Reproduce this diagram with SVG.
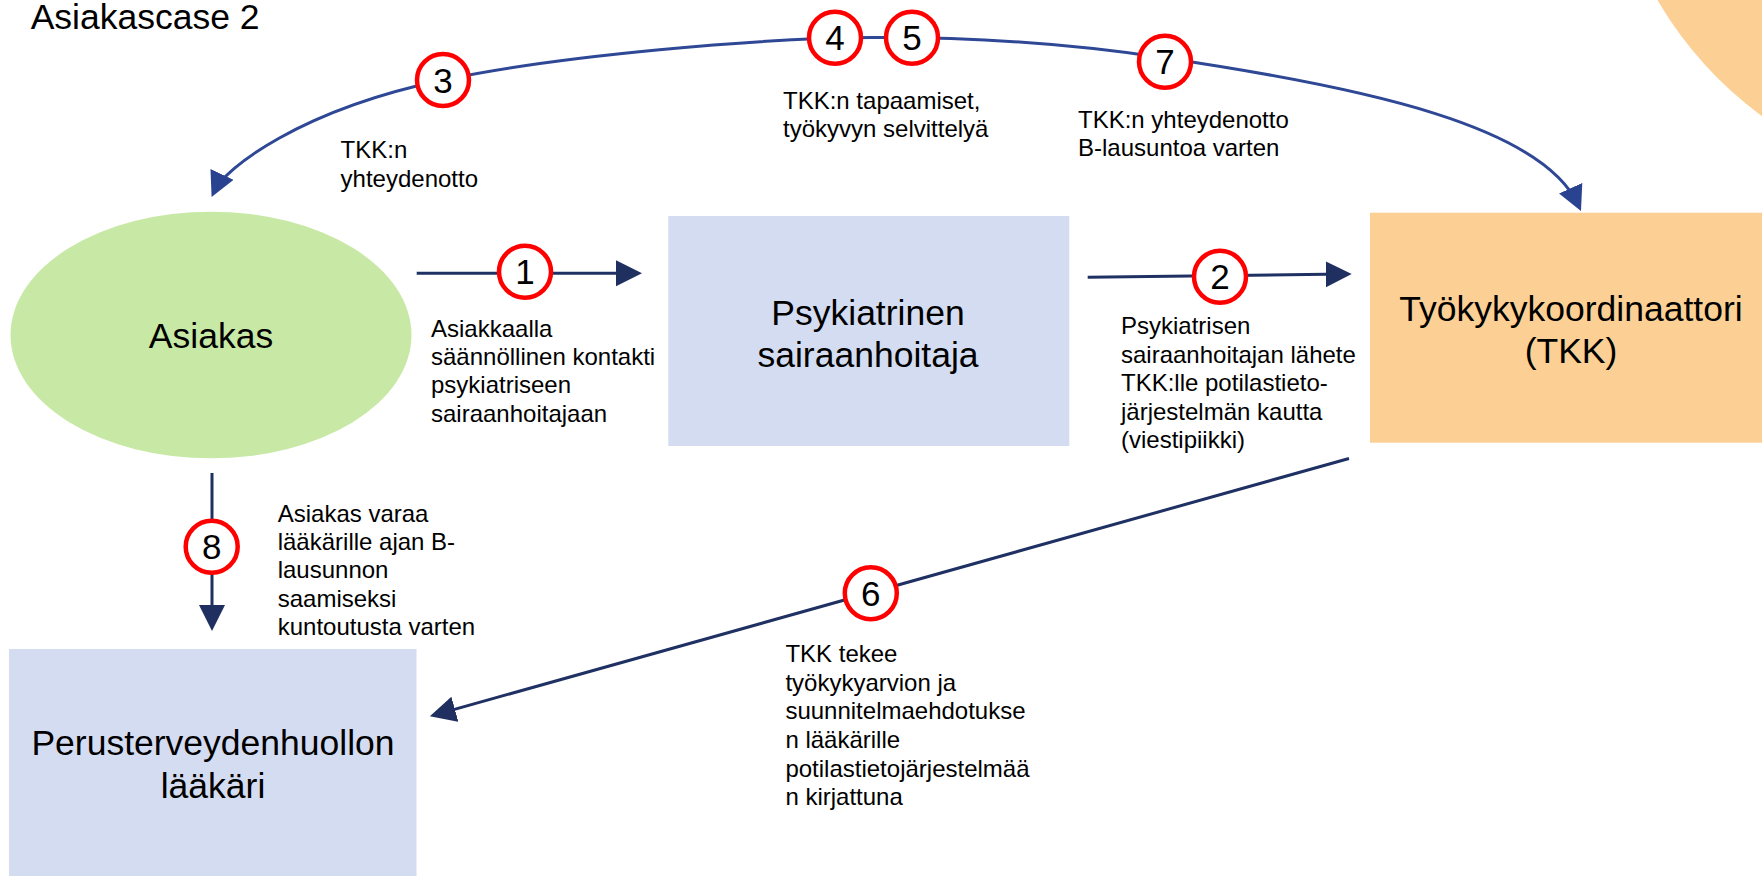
<svg xmlns="http://www.w3.org/2000/svg" width="1762" height="876" viewBox="0 0 1762 876">
<style>
text { font-family: "Liberation Sans", Arial, sans-serif; fill: #000; }
.title { font-size: 35.5px; }
.node { font-size: 35.5px; text-anchor: middle; }
.lbl { font-size: 24px; }
.num { font-size: 35px; text-anchor: middle; }
.badge { fill: #fff; stroke: #ff0000; stroke-width: 4.5; }
.arc { fill: none; stroke: #2f4896; stroke-width: 3; }
.str { fill: none; stroke: #1f3163; stroke-width: 3; }
</style>
<defs>
<marker id="ahBlue" markerUnits="userSpaceOnUse" markerWidth="26" markerHeight="26" refX="19" refY="12.75" orient="auto-start-reverse"><path d="M0,0 L25,12.75 L0,25.5 Z" fill="#2a4390"/></marker>
<marker id="ahNavy" markerUnits="userSpaceOnUse" markerWidth="27" markerHeight="27" refX="19" refY="13" orient="auto-start-reverse"><path d="M0,0 L26,13 L0,26 Z" fill="#1f2f60"/></marker>
</defs>
<rect width="1762" height="876" fill="#fff"/>
<circle cx="1990" cy="-194" r="385" fill="#fcd094"/>
<text class="title" x="30.7" y="29.3">Asiakascase 2</text>

<g id="asiakas">
<ellipse cx="211" cy="335" rx="200.5" ry="123.3" fill="#c8e9a6"/>
<text class="node" x="211" y="348.3">Asiakas</text>
</g>
<g id="psyk">
<rect x="668.3" y="216" width="401" height="230" fill="#d4dcf1"/>
<text class="node" x="868" y="324.5">Psykiatrinen</text>
<text class="node" x="868" y="366.5">sairaanhoitaja</text>
</g>
<g id="tkk">
<rect x="1370" y="212.7" width="392" height="230" fill="#fcd094"/>
<text class="node" x="1571" y="320.7">Työkykykoordinaattori</text>
<text class="node" x="1571" y="363.3">(TKK)</text>
</g>
<g id="laakari">
<rect x="9" y="649" width="407.5" height="227" fill="#d4dcf1"/>
<text class="node" x="213" y="755">Perusterveydenhuollon</text>
<text class="node" x="213" y="798.3">lääkäri</text>
</g>

<g id="connectors">
<path class="arc" d="M 214.1 191.6 C 225 168, 300 110, 443 80 C 560 55.4, 760 38, 873 37.5 C 990 37, 1080 45, 1165 58 C 1370 88, 1543 127, 1578.5 205.5" marker-start="url(#ahBlue)" marker-end="url(#ahBlue)"/>
<path class="str" d="M 416.7 273.3 L 635 273.3" marker-end="url(#ahNavy)"/>
<path class="str" d="M 1087.7 277.3 L 1344.7 274.1" marker-end="url(#ahNavy)"/>
<path class="str" d="M 212 473 L 212 624" marker-end="url(#ahNavy)"/>
<path class="str" d="M 1349 458.5 L 436.6 714.4" marker-end="url(#ahNavy)"/>
</g>

<g id="badges">
<circle class="badge" cx="525" cy="271.7" r="26"/><text class="num" x="525" y="284.2">1</text>
<circle class="badge" cx="1220" cy="276.7" r="26"/><text class="num" x="1220" y="289.2">2</text>
<circle class="badge" cx="443" cy="80" r="26"/><text class="num" x="443" y="92.5">3</text>
<circle class="badge" cx="835" cy="37.7" r="26"/><text class="num" x="835" y="50.2">4</text>
<circle class="badge" cx="912" cy="37.7" r="26"/><text class="num" x="912" y="50.2">5</text>
<circle class="badge" cx="870.8" cy="593.3" r="26"/><text class="num" x="870.8" y="605.8">6</text>
<circle class="badge" cx="1165" cy="61.7" r="26"/><text class="num" x="1165" y="74.2">7</text>
<circle class="badge" cx="211.7" cy="546.7" r="26"/><text class="num" x="211.7" y="559.2">8</text>
</g>

<g id="labels">
<text class="lbl" x="340.6" y="158">TKK:n</text>
<text class="lbl" x="340.6" y="187">yhteydenotto</text>
<text class="lbl" x="783" y="108.7">TKK:n tapaamiset,</text>
<text class="lbl" x="783" y="137.2">työkyvyn selvittelyä</text>
<text class="lbl" x="1078" y="128">TKK:n yhteydenotto</text>
<text class="lbl" x="1078" y="156">B-lausuntoa varten</text>
<text class="lbl" x="431" y="336.7">Asiakkaalla</text>
<text class="lbl" x="431" y="365">säännöllinen kontakti</text>
<text class="lbl" x="431" y="393.3">psykiatriseen</text>
<text class="lbl" x="431" y="421.7">sairaanhoitajaan</text>
<text class="lbl" x="1121" y="334">Psykiatrisen</text>
<text class="lbl" x="1121" y="362.5">sairaanhoitajan lähete</text>
<text class="lbl" x="1121" y="391">TKK:lle potilastieto-</text>
<text class="lbl" x="1121" y="419.5">järjestelmän kautta</text>
<text class="lbl" x="1121" y="448">(viestipiikki)</text>
<text class="lbl" x="277.7" y="521.7">Asiakas varaa</text>
<text class="lbl" x="277.7" y="550">lääkärille ajan B-</text>
<text class="lbl" x="277.7" y="578.3">lausunnon</text>
<text class="lbl" x="277.7" y="606.7">saamiseksi</text>
<text class="lbl" x="277.7" y="635">kuntoutusta varten</text>
<text class="lbl" x="785.4" y="662.3">TKK tekee</text>
<text class="lbl" x="785.4" y="690.7">työkykyarvion ja</text>
<text class="lbl" x="785.4" y="719.3">suunnitelmaehdotukse</text>
<text class="lbl" x="785.4" y="748">n lääkärille</text>
<text class="lbl" x="785.4" y="776.7">potilastietojärjestelmää</text>
<text class="lbl" x="785.4" y="805.3">n kirjattuna</text>
</g>
</svg>
